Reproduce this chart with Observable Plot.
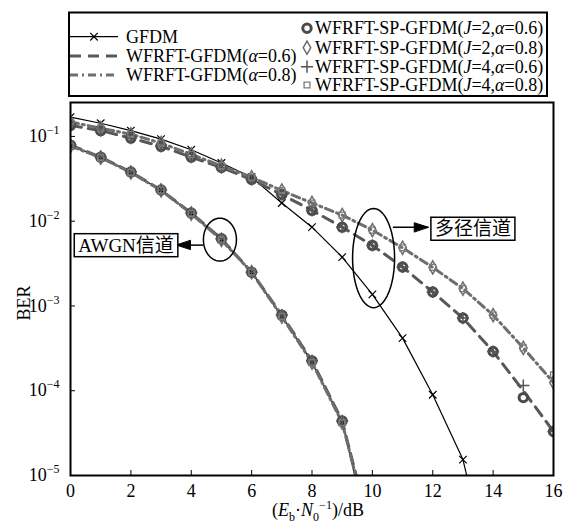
<!DOCTYPE html>
<html><head><meta charset="utf-8">
<script src="https://cdn.jsdelivr.net/npm/d3@7"></script>
<script src="https://cdn.jsdelivr.net/npm/@observablehq/plot@0.6"></script>
<style>
body{margin:0;background:#fff;}
#wrap{width:564px;height:524px;position:relative;background:#fff;}
#wrap svg{display:block;}
</style></head><body><div id="wrap"></div>
<script>
const FONT = "'Liberation Serif','Times New Roman','Noto Sans CJK SC',serif";

// ---- data ----
const snrDb = [0,1,2,3,4,5,6,7,8,9,10,11,12,13,14,15,16];
const xTicks = [0,2,4,6,8,10,12,14,16];
const yTicks = [1e-5,1e-4,1e-3,1e-2,1e-1];

// AWGN channel
const awgnGFDM  = [0.078,0.0566,0.0377,0.0232,0.0124,0.0061,0.0025,7.6e-4,2.2e-4,4.3e-5,1.3e-6];
const awgnWF06  = [0.079,0.0570,0.0380,0.0233,0.0125,0.0062,0.0025,7.8e-4,2.25e-4,4.4e-5,1.8e-6];
const awgnWF08  = [0.077,0.0563,0.0375,0.0231,0.0123,0.0060,0.0025,7.5e-4,2.15e-4,4.2e-5,1.7e-6];

// multipath channel
const mpGFDM    = [0.169,0.143,0.117,0.093,0.0697,0.0485,0.033,0.0164,0.0085,0.00377,0.00137,4.17e-4,8.97e-5,1.54e-5,5e-7];
const mpWF06    = [0.135,0.117,0.0955,0.0763,0.057,0.043,0.031,0.0206,0.0134,0.0085,0.00518,0.00288,0.00146,7.2e-4,2.9e-4,1.0e-4,3.3e-5];
const mpWF08    = [0.148,0.125,0.106,0.0834,0.0614,0.045,0.033,0.023,0.0164,0.0118,0.00784,0.00485,0.00285,0.0016,7.8e-4,3.2e-4,1.25e-4];
const mpSPJ2a06 = [0.135,0.117,0.0955,0.0763,0.057,0.043,0.031,0.0206,0.0134,0.0085,0.00518,0.00288,0.00146,7.2e-4,2.9e-4,8.3e-5,3.3e-5];
const mpSPJ4a06 = [0.135,0.117,0.0955,0.0763,0.057,0.043,0.031,0.0206,0.0134,0.0085,0.00518,0.00288,0.00146,7.2e-4,2.9e-4,1.15e-4,3.3e-5];
const mpSPJ2a08 = [0.148,0.125,0.106,0.0834,0.0614,0.045,0.033,0.023,0.0164,0.0118,0.00784,0.00485,0.00285,0.0016,7.8e-4,3.2e-4,1.25e-4];
const mpSPJ4a08 = [0.148,0.125,0.106,0.0834,0.0614,0.045,0.033,0.023,0.0164,0.0118,0.00784,0.00485,0.00285,0.0016,7.8e-4,3.2e-4,1.54e-4];

// legend labels
const legendLeft  = ["GFDM","WFRFT-GFDM(α=0.6)","WFRFT-GFDM(α=0.8)"];
const legendRight = ["WFRFT-SP-GFDM(J=2,α=0.6)","WFRFT-SP-GFDM(J=2,α=0.8)","WFRFT-SP-GFDM(J=4,α=0.6)","WFRFT-SP-GFDM(J=4,α=0.8)"];

// annotations (data coordinates)
const annoLabels  = ["AWGN信道","多径信道"];
const annoLabelX  = [1.84, 13.33];
const annoLabelY  = [5.15e-3, 8.05e-3];
const ellCx = [4.95, 10.04], ellCyLog = [-2.218, -2.435], ellRx = [0.547, 0.696], ellRyLog = [0.253, 0.585];
const arrX1 = [4.40, 10.68], arrX2 = [3.51, 11.85], arrY = [5.22e-3, 8.49e-3], arrDir = [-90, 90];

// ---- styles ----
const S = {
  gfdm:  {stroke:"#000", strokeWidth:1.2},
  wf06:  {stroke:"#585858", strokeWidth:3, strokeDasharray:"11,7"},
  wf08:  {stroke:"#6e6e6e", strokeWidth:3, strokeDasharray:"8,4,2,4"}
};
const M = {
  times:  ["times","#000",1.2,3.5],
  circle: ["circle","#4a4a4a",3,4.2],
  diamond:["diamond","#6e6e6e",1.5,4],
  plus:   ["plus","#555",1.5,4],
  square: ["square","#7a7a7a",1.3,3.3]
};

const rows = (ys) => ys.map((v,i)=>({x:snrDb[i], y:v}));

const ellipsePts = [];
annoLabels.forEach((_,k)=>{
  for (let i=0;i<72;i++){
    const t = i/72*2*Math.PI;
    ellipsePts.push({id:k, x: ellCx[k]+ellRx[k]*Math.cos(t), y: Math.pow(10, ellCyLog[k]+ellRyLog[k]*Math.sin(t))});
  }
});
const arrows = annoLabels.map((_,k)=>({x1:arrX1[k], x2:arrX2[k], y:arrY[k], dir:arrDir[k]}));
const labels = annoLabels.map((t,k)=>({t, x:annoLabelX[k], y:annoLabelY[k]}));

const headShape = {draw(context, l, r){ context.moveTo(0,0); context.lineTo(-r, l); context.lineTo(r, l); context.closePath(); }};

const lineOpts = (st)=>({x:"x", y:"y", clip:true, ...st});
const dotOpts = ([symbol, stroke, sw, r])=>({x:"x", y:"y", symbol, stroke, strokeWidth:sw, r, fill:"none", clip:true});

const plot = Plot.plot({
  width:564, height:424,
  marginTop:2, marginBottom:49, marginLeft:70, marginRight:11,
  style:{fontFamily:FONT, fontSize:"18px", background:"white", color:"black", overflow:"visible"},
  x:{domain:[0,16]},
  y:{type:"log", domain:[1e-5, Math.pow(10,-0.6)]},
  marks:[
    Plot.axisX({ticks:xTicks, tickSize:-5, tickPadding:14, fontSize:18, fontFamily:FONT, label:null, tickFormat:d=>String(d)}),
    Plot.axisY({ticks:yTicks, tickSize:-5, tickPadding:16, fontSize:18, fontFamily:FONT, label:null, tickFormat:d=>"10^"+Math.round(Math.log10(d))}),
    // AWGN
    Plot.line(rows(awgnGFDM), lineOpts(S.gfdm)),
    Plot.line(rows(awgnWF06), lineOpts(S.wf06)),
    Plot.line(rows(awgnWF08), lineOpts(S.wf08)),
    Plot.dot(rows(awgnGFDM.slice(0,10)), dotOpts(M.times)),
    Plot.dot(rows(awgnWF06.slice(0,10)), dotOpts(M.circle)),
    Plot.dot(rows(awgnWF08.slice(0,10)), dotOpts(M.diamond)),
    Plot.dot(rows(awgnWF06.slice(0,10)), dotOpts(M.plus)),
    Plot.dot(rows(awgnWF08.slice(0,10)), dotOpts(M.square)),
    // multipath
    Plot.line(rows(mpGFDM), lineOpts(S.gfdm)),
    Plot.line(rows(mpWF06), lineOpts(S.wf06)),
    Plot.line(rows(mpWF08), lineOpts(S.wf08)),
    Plot.dot(rows(mpGFDM.slice(0,14)), dotOpts(M.times)),
    Plot.dot(rows(mpSPJ2a06), dotOpts(M.circle)),
    Plot.dot(rows(mpSPJ2a08), dotOpts(M.diamond)),
    Plot.dot(rows(mpSPJ4a06), dotOpts(M.plus)),
    Plot.dot(rows(mpSPJ4a08), dotOpts(M.square)),
    // annotations
    Plot.line(ellipsePts, {x:"x", y:"y", z:"id", curve:"linear-closed", stroke:"#000", strokeWidth:1.5}),
    Plot.link(arrows, {x1:"x1", x2:"x2", y1:"y", y2:"y", stroke:"#000", strokeWidth:1.5}),
    Plot.vector(arrows, {x:"x2", y:"y", rotate:"dir", length:14, r:4.5, anchor:"start", shape:headShape, fill:"#000", stroke:"#000", strokeWidth:1}),
    Plot.text(labels, {x:"x", y:"y", text:"t", fontSize:19, fontFamily:FONT, fill:"#000", className:"annot"}),
    // axis titles
    Plot.text([0], {frameAnchor:"bottom", dy:40, dx:6, text:()=>"XLAB", fontSize:18, fontFamily:FONT, fill:"#000", className:"xlab"}),
    Plot.text([0], {frameAnchor:"left", dx:-46, dy:14, rotate:-90, textAnchor:"middle", text:()=>"BER", fontSize:18, fontFamily:FONT, fill:"#000"}),
    Plot.frame({stroke:"#000", strokeWidth:2})
  ]
});

// ---- legend (above the chart) ----
const wrap = document.getElementById("wrap");
const leg = d3.create("svg").attr("width",564).attr("height",100)
  .attr("font-family",FONT).attr("font-size",18);
leg.append("rect").attr("x",69).attr("y",12.5).attr("width",478).attr("height",83.5)
  .attr("fill","white").attr("stroke","#000").attr("stroke-width",2);

function richText(sel, str){
  for (const ch of str.split(/(α|J)/)) {
    if (!ch) continue;
    const ts = sel.append("tspan").text(ch);
    if (ch==="α"||ch==="J") ts.attr("font-style","italic");
  }
}
const leftRowY = [36.7, 56, 75];
const leftStyles = [S.gfdm, S.wf06, S.wf08];
legendLeft.forEach((lab,i)=>{
  const st = leftStyles[i];
  leg.append("line").attr("x1",70).attr("x2",118).attr("y1",leftRowY[i]).attr("y2",leftRowY[i])
    .attr("stroke",st.stroke).attr("stroke-width",st.strokeWidth).attr("stroke-dasharray",st.strokeDasharray||null);
  if (i===0) leg.append("path").attr("transform",`translate(94,${leftRowY[i]})`)
    .attr("d",d3.symbol(d3.symbolTimes, Math.PI*3.5*3.5)()).attr("stroke","#000").attr("stroke-width",1.2).attr("fill","none");
  richText(leg.append("text").attr("x",126).attr("y",leftRowY[i]+6), lab);
});
const rightRowY = [28.3, 47.7, 66.7, 85];
const symMap = {circle:d3.symbolCircle, diamond:d3.symbolDiamond, plus:d3.symbolPlus, square:d3.symbolSquare};
const rightSyms = [M.circle, M.diamond, M.plus, M.square];
legendRight.forEach((lab,i)=>{
  const [sym,col,sw,r] = rightSyms[i];
  leg.append("path").attr("transform",`translate(307,${rightRowY[i]})`)
    .attr("d",d3.symbol(symMap[sym], Math.PI*r*r)()).attr("stroke",col).attr("stroke-width",sw).attr("fill","none");
  richText(leg.append("text").attr("x",315).attr("y",rightRowY[i]+6), lab);
});
wrap.appendChild(leg.node());
wrap.appendChild(plot);

// ---- post-processing of text (superscripts, boxes) ----
const svg = d3.select(plot);
svg.selectAll('[aria-label="y-axis tick label"] text').each(function(){
  const t = this.textContent; const e = t.split("^")[1].replace("-","−");
  const s = d3.select(this); s.text("10");
  s.append("tspan").attr("dy",-8).attr("font-size",12).text(e);
});
svg.selectAll('.xlab text, text.xlab').each(function(){
  const s = d3.select(this); s.text("");
  s.append("tspan").text("(");
  s.append("tspan").attr("font-style","italic").text("E");
  s.append("tspan").attr("font-size",12).attr("dy",5).text("b");
  s.append("tspan").attr("dy",-5).text("·");
  s.append("tspan").attr("font-style","italic").text("N");
  s.append("tspan").attr("font-size",12).attr("dy",5).text("0");
  s.append("tspan").attr("font-size",12).attr("dy",-12).text("−1");
  s.append("tspan").attr("dy",7).text(")/dB");
});
svg.selectAll('.annot text, text.annot').each(function(){
  const b = this.getBBox();
  const r = document.createElementNS("http://www.w3.org/2000/svg","rect");
  r.setAttribute("x", b.x-4); r.setAttribute("y", b.y-1);
  r.setAttribute("width", b.width+8); r.setAttribute("height", b.height+2);
  r.setAttribute("fill","white"); r.setAttribute("stroke","#000"); r.setAttribute("stroke-width","1.5");
  const tr = this.getAttribute("transform"); if (tr) r.setAttribute("transform", tr);
  this.parentNode.insertBefore(r, this);
});
</script></body></html>
